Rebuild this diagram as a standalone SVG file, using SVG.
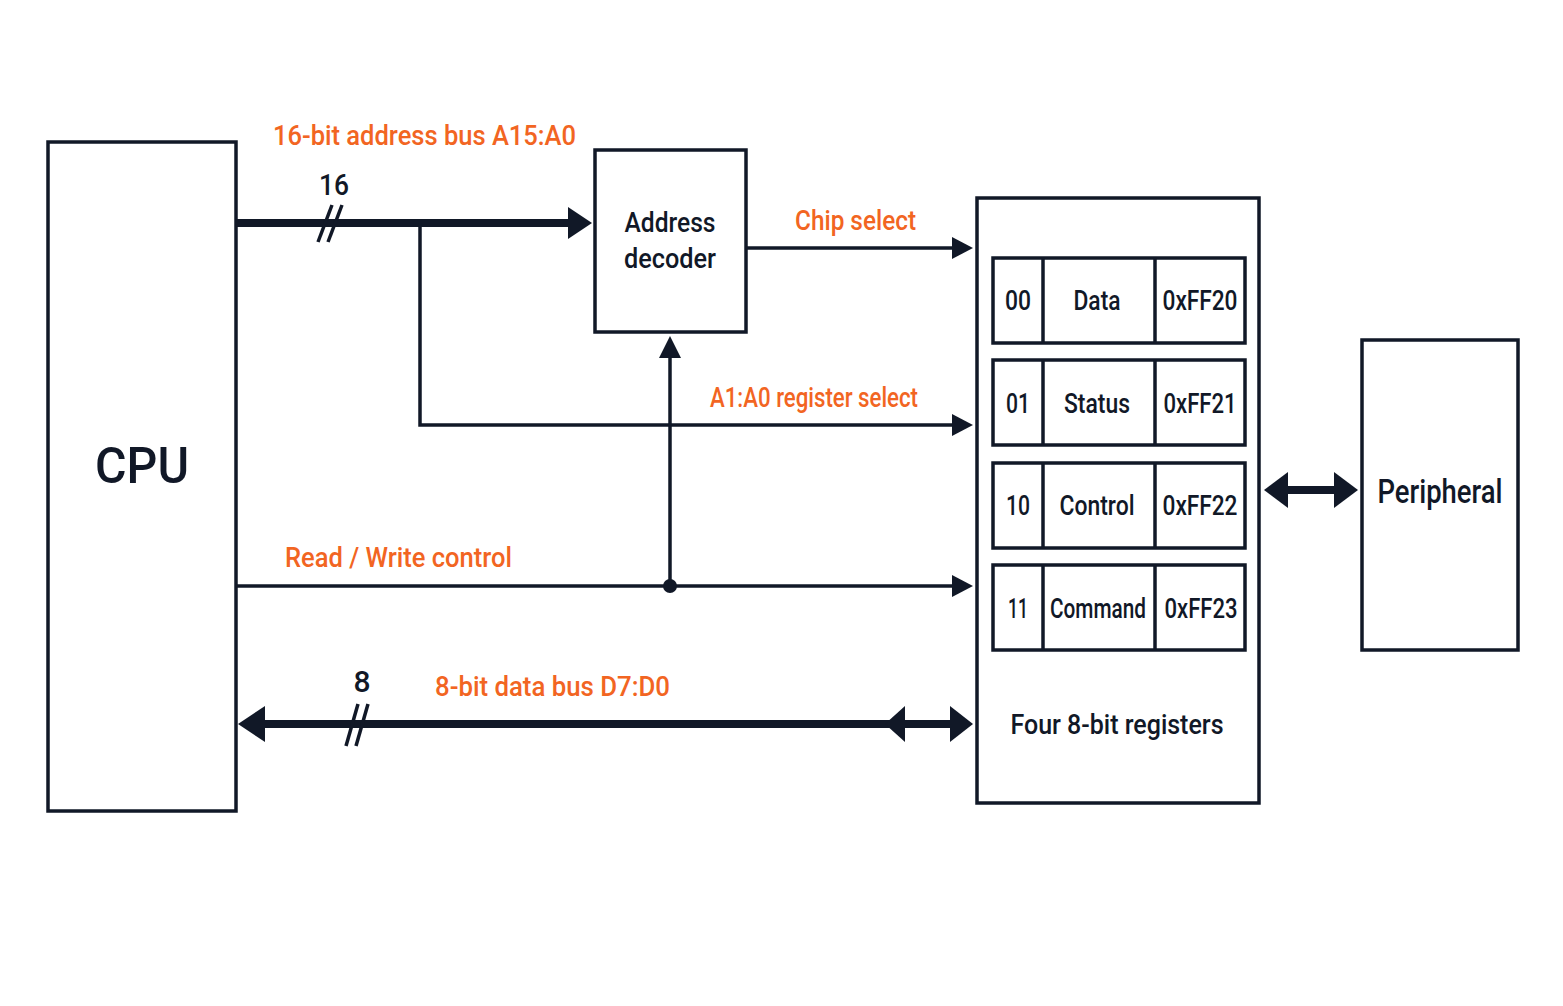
<svg xmlns="http://www.w3.org/2000/svg" width="1563" height="1006" viewBox="0 0 1563 1006">
<style>
.box{fill:#fff;stroke:#111827;stroke-width:3.5}
.t{font-family:Roboto,"Liberation Sans",sans-serif;fill:#111827;text-anchor:middle;font-weight:500}
.o{font-family:Roboto,"Liberation Sans",sans-serif;fill:#f26522;font-size:27px;font-weight:500}
.thin{stroke:#111827;stroke-width:3.5;fill:none}
.thick{stroke:#111827;stroke-width:8;fill:none}
.h{fill:#111827}
</style>
<rect width="1563" height="1006" fill="#fff"/>
<g id="cpu"><rect class="box" x="48" y="142" width="188" height="669"/><text class="t" x="142" y="483" font-size="50" font-weight="bold" textLength="94" lengthAdjust="spacingAndGlyphs">CPU</text></g>
<g id="decoder"><rect class="box" x="595" y="150" width="151" height="182"/><text class="t" x="670" y="232" font-size="28" textLength="91" lengthAdjust="spacingAndGlyphs">Address</text><text class="t" x="670" y="268" font-size="28" textLength="92" lengthAdjust="spacingAndGlyphs">decoder</text></g>
<g id="registers"><rect class="box" x="977" y="198" width="282" height="605"/>
<g id="r0"><rect class="box" x="993" y="258" width="252" height="85"/><line class="thin" x1="1043" y1="258" x2="1043" y2="343"/><line class="thin" x1="1155" y1="258" x2="1155" y2="343"/><text class="t" x="1018" y="310" font-size="28" textLength="26" lengthAdjust="spacingAndGlyphs">00</text><text class="t" x="1097" y="310" font-size="28" textLength="47" lengthAdjust="spacingAndGlyphs">Data</text><text class="t" x="1200" y="310" font-size="28" textLength="75" lengthAdjust="spacingAndGlyphs">0xFF20</text></g>
<g id="r1"><rect class="box" x="993" y="360" width="252" height="85"/><line class="thin" x1="1043" y1="360" x2="1043" y2="445"/><line class="thin" x1="1155" y1="360" x2="1155" y2="445"/><text class="t" x="1018" y="413" font-size="28" textLength="24" lengthAdjust="spacingAndGlyphs">01</text><text class="t" x="1097" y="413" font-size="28" textLength="66" lengthAdjust="spacingAndGlyphs">Status</text><text class="t" x="1200" y="413" font-size="28" textLength="73" lengthAdjust="spacingAndGlyphs">0xFF21</text></g>
<g id="r2"><rect class="box" x="993" y="463" width="252" height="85"/><line class="thin" x1="1043" y1="463" x2="1043" y2="548"/><line class="thin" x1="1155" y1="463" x2="1155" y2="548"/><text class="t" x="1018" y="515" font-size="28" textLength="24" lengthAdjust="spacingAndGlyphs">10</text><text class="t" x="1097" y="515" font-size="28" textLength="75" lengthAdjust="spacingAndGlyphs">Control</text><text class="t" x="1200" y="515" font-size="28" textLength="75" lengthAdjust="spacingAndGlyphs">0xFF22</text></g>
<g id="r3"><rect class="box" x="993" y="565" width="252" height="85"/><line class="thin" x1="1043" y1="565" x2="1043" y2="650"/><line class="thin" x1="1155" y1="565" x2="1155" y2="650"/><text class="t" x="1018" y="618" font-size="28" textLength="20" lengthAdjust="spacingAndGlyphs">11</text><text class="t" x="1098" y="618" font-size="28" textLength="96" lengthAdjust="spacingAndGlyphs">Command</text><text class="t" x="1201" y="618" font-size="28" textLength="73" lengthAdjust="spacingAndGlyphs">0xFF23</text></g>
<text class="t" x="1117" y="734" font-size="28" textLength="213" lengthAdjust="spacingAndGlyphs">Four 8-bit registers</text></g>
<g id="peripheral"><rect class="box" x="1362" y="340" width="156" height="310"/><text class="t" x="1440" y="503" font-size="34" font-weight="bold" textLength="125" lengthAdjust="spacingAndGlyphs">Peripheral</text></g>
<g id="connectors">
<line class="thick" x1="236" y1="223" x2="572" y2="223"/><polygon class="h" points="568,207 592,223 568,239"/>
<line class="thin" x1="318" y1="242" x2="332" y2="205"/><line class="thin" x1="328" y1="242" x2="342" y2="205"/>
<text class="t" x="334" y="195" font-size="30" textLength="30" lengthAdjust="spacingAndGlyphs">16</text>
<text class="o" x="273" y="145" textLength="303" lengthAdjust="spacingAndGlyphs">16-bit address bus A15:A0</text>
<polyline class="thin" points="420,223 420,425 955,425"/><polygon class="h" points="952,414 973,425 952,436"/>
<text class="o" x="710" y="407" textLength="208" lengthAdjust="spacingAndGlyphs">A1:A0 register select</text>
<line class="thin" x1="746" y1="248" x2="955" y2="248"/><polygon class="h" points="952,237 973,248 952,259"/>
<text class="o" x="795" y="230" textLength="121" lengthAdjust="spacingAndGlyphs">Chip select</text>
<line class="thin" x1="236" y1="586" x2="955" y2="586"/><polygon class="h" points="952,575 973,586 952,597"/>
<circle class="h" cx="670" cy="586" r="7"/>
<line class="thin" x1="670" y1="586" x2="670" y2="355"/><polygon class="h" points="659,358 670,336 681,358"/>
<text class="o" x="285" y="567" textLength="227" lengthAdjust="spacingAndGlyphs">Read / Write control</text>
<line class="thick" x1="258" y1="724" x2="955" y2="724"/>
<polygon class="h" points="238,724 265,706 265,742"/>
<polygon class="h" points="885,724 905,706 905,742"/>
<polygon class="h" points="973,724 950,706 950,742"/>
<line class="thin" x1="346" y1="746" x2="358" y2="704"/><line class="thin" x1="356" y1="746" x2="368" y2="704"/>
<text class="t" x="362" y="692" font-size="30">8</text>
<text class="o" x="435" y="696" textLength="235" lengthAdjust="spacingAndGlyphs">8-bit data bus D7:D0</text>
<line class="thick" x1="1282" y1="490" x2="1340" y2="490"/>
<polygon class="h" points="1264,490 1288,472 1288,508"/><polygon class="h" points="1358,490 1334,472 1334,508"/>
</g>
</svg>
